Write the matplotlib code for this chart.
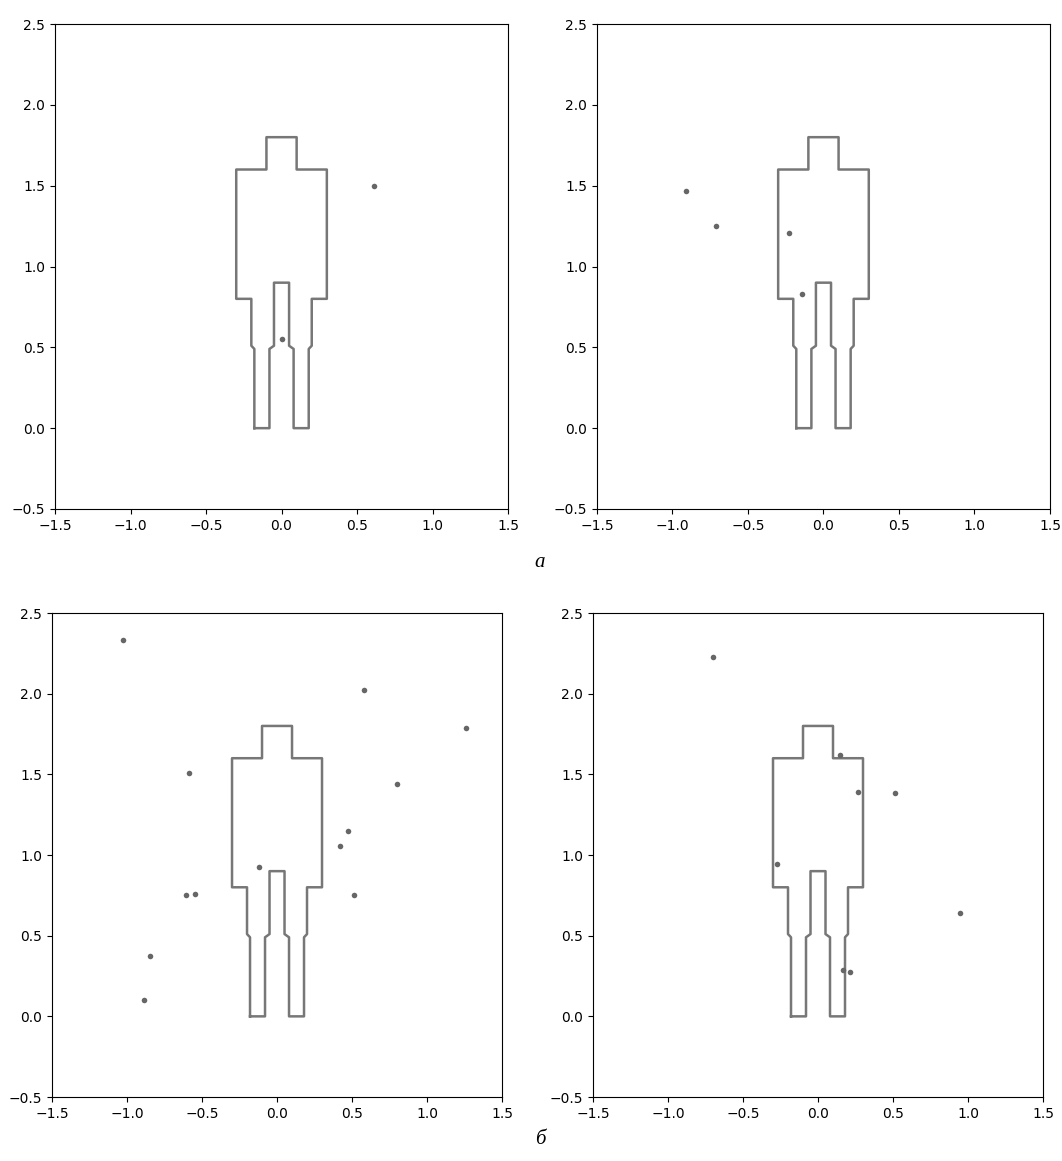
import matplotlib
matplotlib.use("Agg")
import matplotlib.pyplot as plt
import numpy as np

# силуэт человека (контур)
body_x = [-0.18, -0.18, -0.2, -0.2, -0.3, -0.3, -0.1, -0.1, 0.1, 0.1, 0.3, 0.3,
          0.2, 0.2, 0.18, 0.18, 0.08, 0.08, 0.05, 0.05, -0.05, -0.05, -0.08, -0.08, -0.18]
body_y = [0.0, 0.49, 0.51, 0.8, 0.8, 1.6, 1.6, 1.8, 1.8, 1.6, 1.6, 0.8,
          0.8, 0.51, 0.49, 0.0, 0.0, 0.49, 0.51, 0.9, 0.9, 0.51, 0.49, 0.0, 0.0]

# точки на каждой панели
pts1_x = [0.61, 0.0]
pts1_y = [1.5, 0.55]

pts2_x = [-0.91, -0.71, -0.225, -0.14]
pts2_y = [1.47, 1.25, 1.21, 0.83]

pts3_x = [-1.03, 0.58, 1.26, -0.59, 0.80, 0.47, 0.42, -0.12, -0.61, -0.55, 0.51, -0.85, -0.89]
pts3_y = [2.33, 2.025, 1.79, 1.51, 1.44, 1.146, 1.053, 0.927, 0.75, 0.76, 0.75, 0.375, 0.10]

pts4_x = [-0.70, 0.147, 0.268, 0.513, -0.273, 0.947, 0.165, 0.21]
pts4_y = [2.227, 1.62, 1.392, 1.383, 0.943, 0.641, 0.29, 0.275]

fig = plt.figure(figsize=(10.62, 11.61), dpi=100)

positions = [
    [0.0518, 0.5616, 0.4266, 0.4177],
    [0.5621, 0.5616, 0.4266, 0.4177],
    [0.0490, 0.0551, 0.4237, 0.4169],
    [0.5584, 0.0551, 0.4237, 0.4169],
]
data = [(pts1_x, pts1_y), (pts2_x, pts2_y), (pts3_x, pts3_y), (pts4_x, pts4_y)]

for pos, (px, py) in zip(positions, data):
    ax = fig.add_axes(pos)
    ax.plot(body_x, body_y, color="#777777", lw=1.8)
    ax.plot(px, py, "o", color="#666666", markersize=4, markeredgewidth=0)
    ax.set_xlim(-1.5, 1.5)
    ax.set_ylim(-0.5, 2.5)
    ax.set_xticks(np.arange(-1.5, 1.51, 0.5))
    ax.set_yticks(np.arange(-0.5, 2.51, 0.5))
    ax.tick_params(labelsize=10)

fig.text(0.5085, 1 - 563 / 1161, "а", ha="center", va="center",
         family="Liberation Serif", style="italic", fontsize=15)
fig.text(0.5085, 1 - 1140 / 1161, "б", ha="center", va="center",
         family="Liberation Serif", style="italic", fontsize=15)

fig.savefig("out.png", dpi=100)
